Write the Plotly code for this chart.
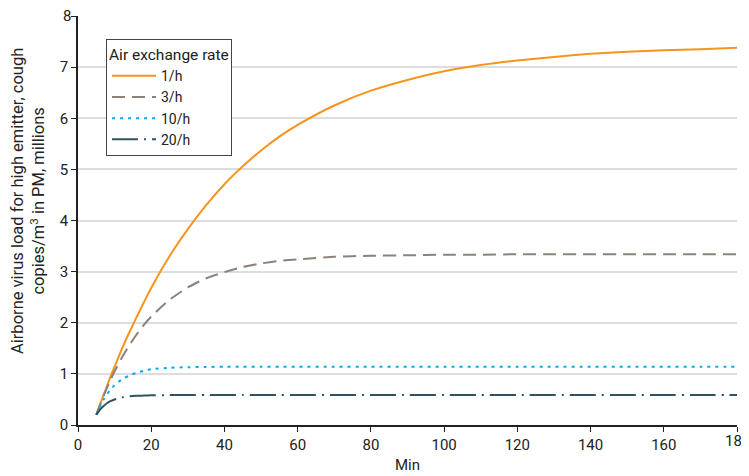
import plotly.graph_objects as go

minutes = [5, 6, 7, 8, 9, 10, 12, 14, 16, 18, 20, 25, 30, 35, 40, 45, 50, 55, 60,
           70, 80, 90, 100, 110, 120, 130, 140, 150, 160, 170, 180]
rate_1 = [0.20, 0.40, 0.59, 0.78, 0.97, 1.14, 1.49, 1.81, 2.11, 2.40, 2.68, 3.30, 3.83, 4.30,
          4.71, 5.06, 5.37, 5.64, 5.87, 6.25, 6.54, 6.75, 6.92, 7.04, 7.13, 7.20, 7.26, 7.30,
          7.33, 7.35, 7.38]
rate_3 = [0.20, 0.39, 0.57, 0.74, 0.90, 1.05, 1.32, 1.56, 1.77, 1.96, 2.12, 2.45, 2.69, 2.87,
          2.99, 3.09, 3.16, 3.21, 3.24, 3.29, 3.31, 3.32, 3.33, 3.33, 3.34, 3.34, 3.34, 3.34,
          3.34, 3.34, 3.34]
rate_10 = [0.20, 0.36, 0.50, 0.61, 0.70, 0.78, 0.89, 0.97, 1.02, 1.06, 1.09, 1.12, 1.13, 1.135,
           1.14, 1.14, 1.14, 1.14, 1.14, 1.14, 1.14, 1.14, 1.14, 1.14, 1.14, 1.14, 1.14, 1.14,
           1.14, 1.14, 1.14]
rate_20 = [0.20, 0.30, 0.37, 0.43, 0.47, 0.50, 0.54, 0.56, 0.57, 0.575, 0.58, 0.585, 0.585,
           0.585, 0.585, 0.585, 0.585, 0.585, 0.585, 0.585, 0.585, 0.585, 0.585, 0.585, 0.585,
           0.585, 0.585, 0.585, 0.585, 0.585, 0.585]
labels = ["1/h", "3/h", "10/h", "20/h"]
x_ticks = [0, 20, 40, 60, 80, 100, 120, 140, 160, 180]
y_ticks = [0, 1, 2, 3, 4, 5, 6, 7, 8]
x_title = "Min"
y_title = "Airborne virus load for high emitter, cough<br>copies/m<sup>3</sup> in PM, millions"
legend_title = "Air exchange rate"

FONT = "Roboto, sans-serif"
TXT = "#222222"
series = [rate_1, rate_3, rate_10, rate_20]
styles = [
    dict(color="#F7941D", width=2, dash="solid"),
    dict(color="#8C8279", width=2, dash="13px,7px"),
    dict(color="#00AEEF", width=2, dash="3px,5px"),
    dict(color="#2E5464", width=2, dash="26px,6px,2px,6px"),
]

# page has an 8px body margin; geometry below is in window pixels
OFF = 8
W, H = 749 - OFF, 476 - OFF
PX0, PX1, PY0, PY1 = 78, 737, 16, 425          # plot area in window pixels
L, R = PX0 - OFF, W - (PX1 - OFF)
T, B = PY0 - OFF, H - (PY1 - OFF)
PW, PH = PX1 - PX0, PY1 - PY0


def px_x(p):
    return (p - PX0) / PW


def px_y(p):
    return (PY1 - p) / PH


fig = go.Figure()
for lab, vals, st in zip(labels, series, styles):
    fig.add_trace(go.Scatter(x=minutes, y=vals, mode="lines", name=lab,
                             line=dict(shape="spline", smoothing=0.6, **st)))

# edge tick labels are drawn as annotations so they are not dropped at the page edge
x_ticktext = [str(v) for v in x_ticks[:-1]] + [""]
y_ticktext = [str(v) for v in y_ticks[:-1]] + [""]

fig.update_layout(
    width=W, height=H,
    margin=dict(l=L, r=R, t=T, b=B),
    plot_bgcolor="white", paper_bgcolor="white",
    font=dict(family=FONT, size=15, color=TXT),
    showlegend=True,
    legend=dict(
        title=dict(text=legend_title, font=dict(size=15.5)),
        x=px_x(106), y=px_y(39), xanchor="left", yanchor="top",
        bordercolor="#444444", borderwidth=1, bgcolor="white",
        font=dict(size=14), tracegroupgap=0, itemwidth=44,
    ),
    xaxis=dict(
        range=[0, 180], tickvals=x_ticks, ticktext=x_ticktext, showgrid=False, zeroline=False,
        showline=True, linecolor=TXT, linewidth=1.5, automargin=False,
        ticks="outside", ticklen=5, tickcolor=TXT, tickfont=dict(size=15),
    ),
    yaxis=dict(
        range=[0, 8], tickvals=y_ticks, ticktext=y_ticktext, showgrid=True,
        gridcolor="#DDDDDD", gridwidth=1.5,
        zeroline=False, showline=True, linecolor=TXT, linewidth=1.5, automargin=False,
        ticks="outside", ticklen=5, tickcolor=TXT, tickfont=dict(size=15),
    ),
    annotations=[
        dict(text=y_title, textangle=-90, xref="paper", yref="paper",
             x=px_x(28), y=px_y(201), xanchor="center", yanchor="middle",
             showarrow=False, font=dict(size=16.5, color=TXT)),
        dict(text=x_title, xref="paper", yref="paper",
             x=0.5, y=px_y(465), xanchor="center", yanchor="middle",
             showarrow=False, font=dict(size=15, color=TXT)),
        dict(text=str(x_ticks[-1]), xref="x", yref="paper",
             x=x_ticks[-1], y=px_y(441), xanchor="center", yanchor="middle",
             showarrow=False, font=dict(size=15, color=TXT)),
        dict(text=str(y_ticks[-1]), xref="paper", yref="y",
             x=px_x(67), y=y_ticks[-1], xanchor="center", yanchor="middle",
             showarrow=False, font=dict(size=15, color=TXT)),
    ],
)

fig.write_html("out.html")
